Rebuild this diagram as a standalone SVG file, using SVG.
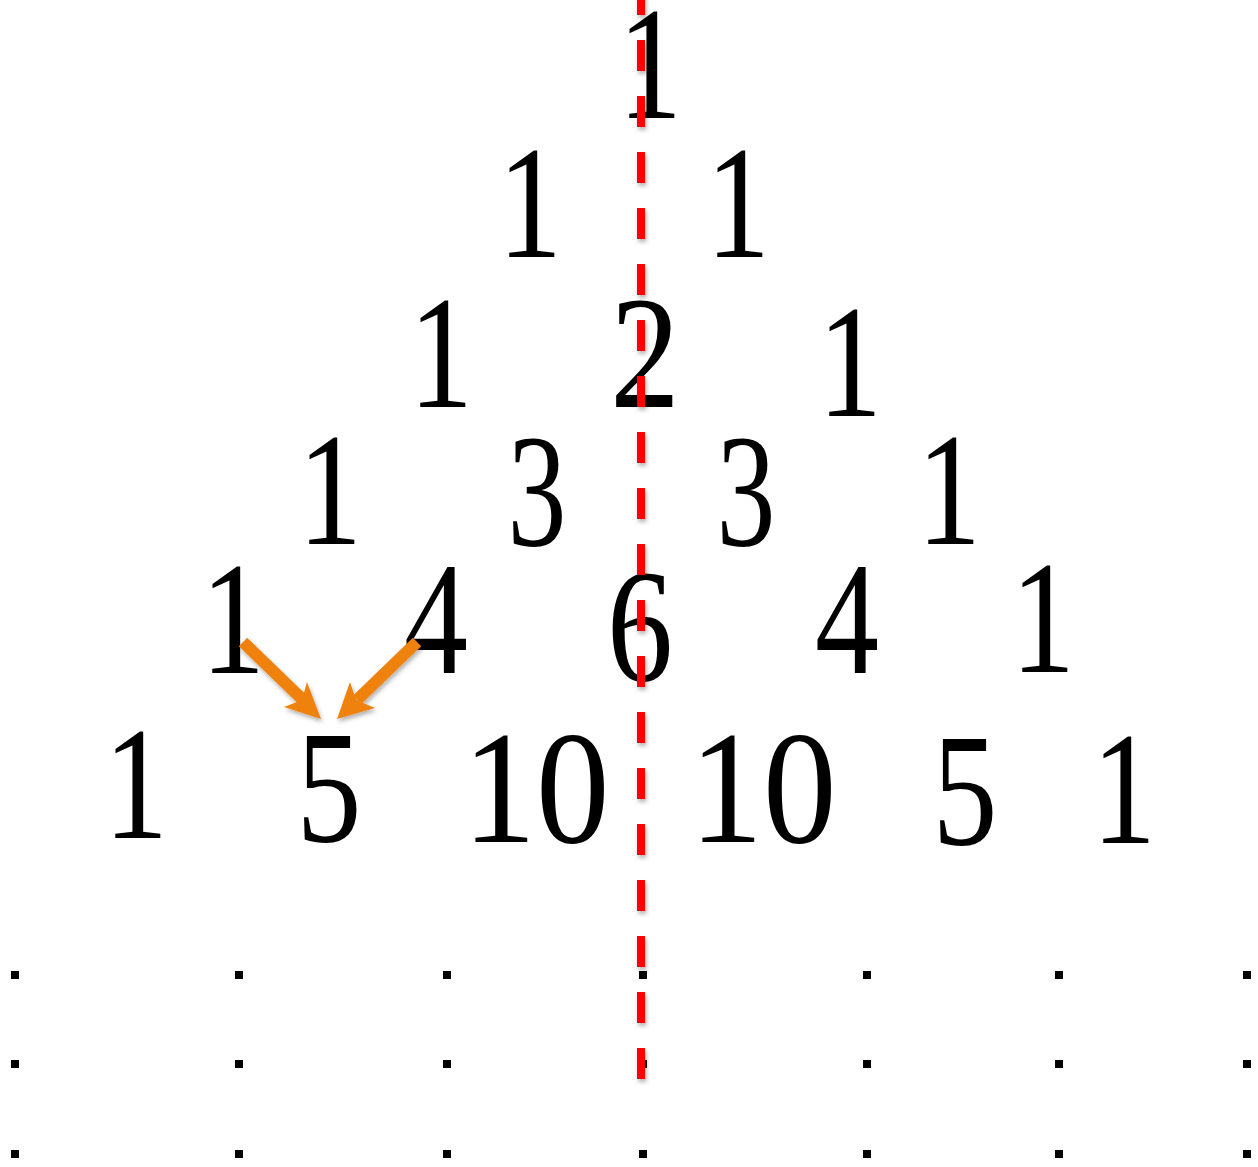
<svg xmlns="http://www.w3.org/2000/svg" width="1258" height="1167" viewBox="0 0 1258 1167">
<style>
.n{font-family:"Liberation Serif","Times New Roman",serif;font-size:160px;fill:#000;text-anchor:middle}
.dot{fill:#000}
.arrow{fill:#EF8210}
.shaft{stroke:#EF8210;stroke-width:12;fill:none}
</style>
<defs>
<filter id="sh" x="-20%" y="-20%" width="140%" height="140%">
<feDropShadow dx="1.5" dy="3" stdDeviation="2" flood-color="#000" flood-opacity="0.3"/>
</filter>
</defs>
<rect width="1258" height="1167" fill="#fff"/>
<g id="dots">
<rect class="dot" x="11" y="971" width="8" height="8"/><rect class="dot" x="235" y="971" width="8" height="8"/><rect class="dot" x="443" y="971" width="8" height="8"/><rect class="dot" x="639" y="971" width="8" height="8"/><rect class="dot" x="863" y="971" width="8" height="8"/><rect class="dot" x="1055" y="971" width="8" height="8"/><rect class="dot" x="1243" y="971" width="8" height="8"/>
<rect class="dot" x="11" y="1060" width="8" height="8"/><rect class="dot" x="235" y="1060" width="8" height="8"/><rect class="dot" x="443" y="1060" width="8" height="8"/><rect class="dot" x="639" y="1060" width="8" height="8"/><rect class="dot" x="863" y="1060" width="8" height="8"/><rect class="dot" x="1055" y="1060" width="8" height="8"/><rect class="dot" x="1243" y="1060" width="8" height="8"/>
<rect class="dot" x="11" y="1150" width="8" height="8"/><rect class="dot" x="235" y="1150" width="8" height="8"/><rect class="dot" x="443" y="1150" width="8" height="8"/><rect class="dot" x="639" y="1150" width="8" height="8"/><rect class="dot" x="863" y="1150" width="8" height="8"/><rect class="dot" x="1055" y="1150" width="8" height="8"/><rect class="dot" x="1243" y="1150" width="8" height="8"/>
</g>
<g id="row1"><text id="r1c1" class="n" x="650" y="118" textLength="64" lengthAdjust="spacingAndGlyphs">1</text></g>
<g id="row2"><text id="r2c1" class="n" x="530" y="257" textLength="64" lengthAdjust="spacingAndGlyphs">1</text><text id="r2c2" class="n" x="738" y="257" textLength="64" lengthAdjust="spacingAndGlyphs">1</text></g>
<g id="row3"><text id="r3c1" class="n" x="441" y="407" textLength="64" lengthAdjust="spacingAndGlyphs">1</text><text id="r3c2" class="n" x="645" y="407" textLength="70" lengthAdjust="spacingAndGlyphs">2</text><text id="r3c3" class="n" x="850" y="416" textLength="64" lengthAdjust="spacingAndGlyphs">1</text></g>
<g id="row4"><text id="r4c1" class="n" x="330" y="544" textLength="64" lengthAdjust="spacingAndGlyphs">1</text><text id="r4c2" class="n" x="537" y="545" textLength="59" lengthAdjust="spacingAndGlyphs">3</text><text id="r4c3" class="n" x="746" y="545" textLength="59" lengthAdjust="spacingAndGlyphs">3</text><text id="r4c4" class="n" x="949" y="544" textLength="64" lengthAdjust="spacingAndGlyphs">1</text></g>
<g id="row5"><text id="r5c1" class="n" x="233" y="673" textLength="64" lengthAdjust="spacingAndGlyphs">1</text><text id="r5c2" class="n" x="436" y="673" textLength="64" lengthAdjust="spacingAndGlyphs">4</text><text id="r5c3" class="n" x="640" y="680" textLength="66" lengthAdjust="spacingAndGlyphs">6</text><text id="r5c4" class="n" x="847" y="673" textLength="64" lengthAdjust="spacingAndGlyphs">4</text><text id="r5c5" class="n" x="1043" y="672" textLength="64" lengthAdjust="spacingAndGlyphs">1</text></g>
<g id="row6"><text id="r6c1" class="n" x="136" y="838" textLength="64" lengthAdjust="spacingAndGlyphs">1</text><text id="r6c2" class="n" x="329" y="841" textLength="65" lengthAdjust="spacingAndGlyphs">5</text><text id="r6c3" class="n" x="536" y="842" textLength="147" lengthAdjust="spacingAndGlyphs">10</text><text id="r6c4" class="n" x="763" y="842" textLength="147" lengthAdjust="spacingAndGlyphs">10</text><text id="r6c5" class="n" x="965" y="844" textLength="65" lengthAdjust="spacingAndGlyphs">5</text><text id="r6c6" class="n" x="1124" y="843" textLength="64" lengthAdjust="spacingAndGlyphs">1</text></g>
<g id="connectors" filter="url(#sh)">
<line id="axis" x1="641" y1="-16" x2="641" y2="1080" stroke="#FF0000" stroke-width="8" stroke-dasharray="31 25"/>
<g id="arrow-left">
<line class="shaft" x1="243" y1="642" x2="303" y2="700"/>
<polygon class="arrow" points="321,719 284,707 302,700 307,682"/>
</g>
<g id="arrow-right">
<line class="shaft" x1="417" y1="642" x2="357" y2="700"/>
<polygon class="arrow" points="337,719 350,682 356,700 375,708"/>
</g>
</g>
</svg>
